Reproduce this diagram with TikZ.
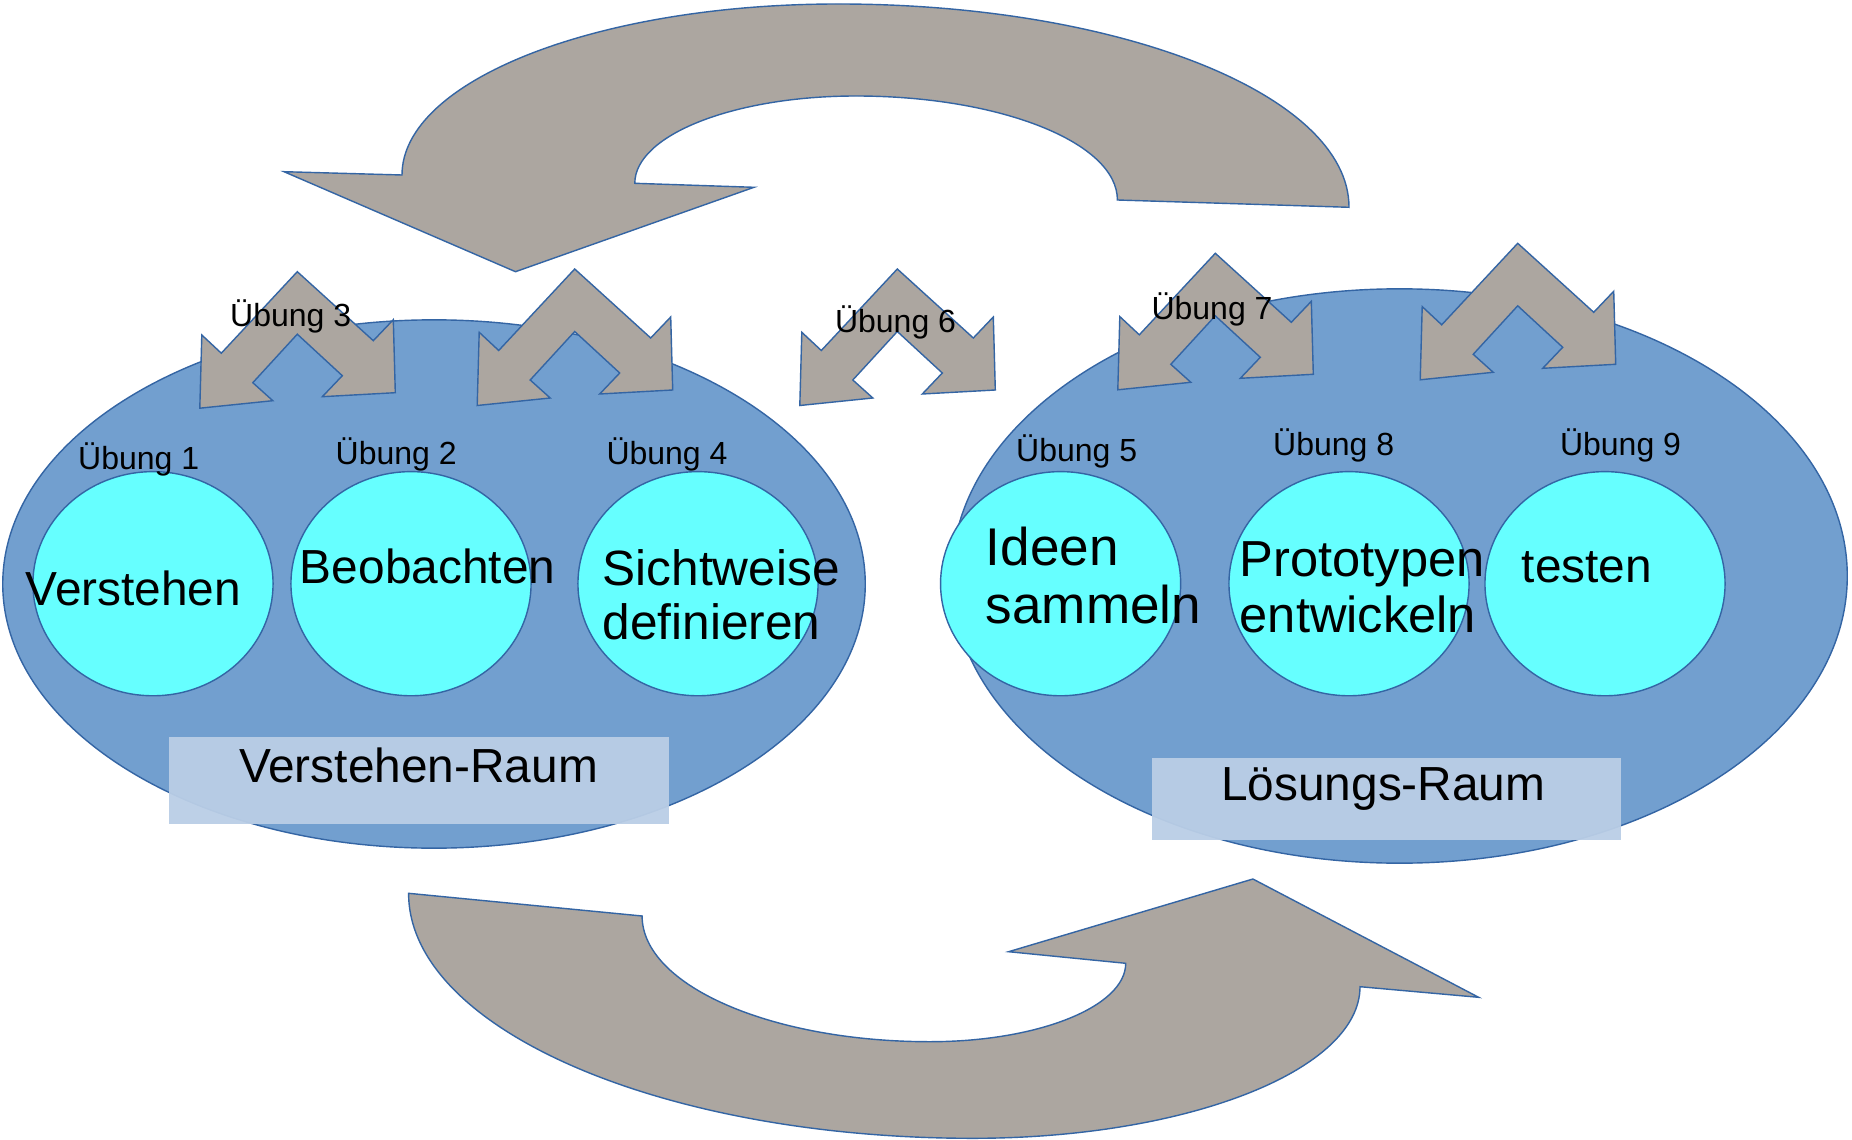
\documentclass[tikz,border=0pt]{standalone}
\usepackage{fontspec}
\setmainfont{Liberation Sans}
\usepackage{tikz}

\definecolor{rahmen}{RGB}{52,101,164}
\definecolor{raum}{RGB}{114,159,207}
\definecolor{kreis}{RGB}{102,255,255}
\definecolor{pfeil}{RGB}{172,166,160}
\definecolor{schild}{RGB}{186,206,230}

\begin{document}
\begin{tikzpicture}[x=0.01cm,y=-0.01cm,
  form/.style={draw=rahmen,line width=0.4pt},
  gross/.style={font=\fontsize{13.6}{15.8}\selectfont,inner sep=0pt},
  klein/.style={font=\fontsize{9.1}{11}\selectfont,inner sep=0pt}]

\fill[white] (0,0) rectangle (1852,1140);
\useasboundingbox (0,0) rectangle (1852,1140);

\coordinate (L) at (434,584);
\coordinate (R) at (1399.5,576);

\draw [form,fill=raum] (L) ellipse (4.31cm and 2.64cm);
\draw [form,fill=raum] (R) ellipse (4.475cm and 2.87cm);

\fill [schild,opacity=0.95] (169,737) rectangle (669,824);
\fill [schild,opacity=0.95] (1152,758) rectangle (1621,840);

\coordinate (V) at (153,583.7);
\coordinate (B) at (411,583.7);
\coordinate (S) at (698,583.7);
\coordinate (I) at (1060.6,583.7);
\coordinate (P) at (1349,583.7);
\coordinate (T) at (1605,583.7);

\foreach \k in {V,B,S,I,P,T}
  \draw [form,fill=kreis] (\k) ellipse (1.2cm and 1.12cm);

% oberer Pfeil
\draw [form,fill=pfeil] (284,171.7) -- (515.5,271.7) -- (754,187.3) -- (634.8,183.3)
  .. controls (634.8,135.1) and (733.8,96) .. (855.8,96)
  .. controls (1000.3,96) and (1117.4,142.6) .. (1117.4,200)
  -- (1349,207.3)
  .. controls (1349,95) and (1120,4) .. (838,4)
  .. controls (597,4) and (402,80.6) .. (402,175) -- cycle;

% unterer Pfeil
\draw [form,fill=pfeil] (408.6,893.3) -- (642.1,916)
  .. controls (642.1,985.4) and (771,1041.7) .. (930,1041.7)
  .. controls (1038,1041.7) and (1125.7,1006.6) .. (1125.7,963.3)
  -- (1008.6,951.7) -- (1252.9,879) -- (1478.6,997.3) -- (1360,986.7)
  .. controls (1360,1070.4) and (1186.7,1138.3) .. (972.9,1138.3)
  .. controls (661.4,1138.3) and (408.6,1028.6) .. (408.6,893.3) -- cycle;

% kleine Doppelpfeile
\foreach \x/\y in {297.3/271.7, 574.7/269, 897.3/269, 1215.3/253.3, 1517.7/243.3}
  \draw [form,fill=pfeil,shift={(\x,\y)}] (0,0) -- (76,69) -- (96,48) -- (98,121)
    -- (25,125) -- (45,104) -- (0,62.5) -- (-44.5,111) -- (-24.5,129)
    -- (-97.5,136.5) -- (-95.5,63.3) -- (-76,81.5) -- cycle;

\node [gross] (tV) at (133.5,588) {Verstehen};
\node [gross] (tB) at (427.6,566) {Beobachten};
\node [gross,font=\fontsize{14.1}{15.4}\selectfont,align=left,anchor=west] (tS) at (602,595) {Sichtweise\\definieren};
\node [gross,font=\fontsize{15.1}{16.5}\selectfont,align=left,anchor=west] (tI) at (985,576) {Ideen\\sammeln};
\node [gross,font=\fontsize{14.4}{15.8}\selectfont,align=left,anchor=west] (tP) at (1239,587.5) {Prototypen\\entwickeln};
\node [gross] (tT) at (1587,567) {testen};

\node [gross] (rV) at (418.5,765) {Verstehen-Raum};
\node [gross] (rL) at (1383.3,789.5) {Lösungs-Raum};

\node [klein] (u1) at (138.7,459) {Übung 1};
\node [klein] (u2) at (396.2,454) {Übung 2};
\node [klein] (u3) at (290.7,316) {Übung 3};
\node [klein] (u4) at (667,454) {Übung 4};
\node [klein] (u5) at (1076.7,451.7) {Übung 5};
\node [klein] (u6) at (895.5,322) {Übung 6};
\node [klein] (u7) at (1212,309.3) {Übung 7};
\node [klein] (u8) at (1333.7,445.3) {Übung 8};
\node [klein] (u9) at (1620.5,445.3) {Übung 9};
\end{tikzpicture}
\end{document}
